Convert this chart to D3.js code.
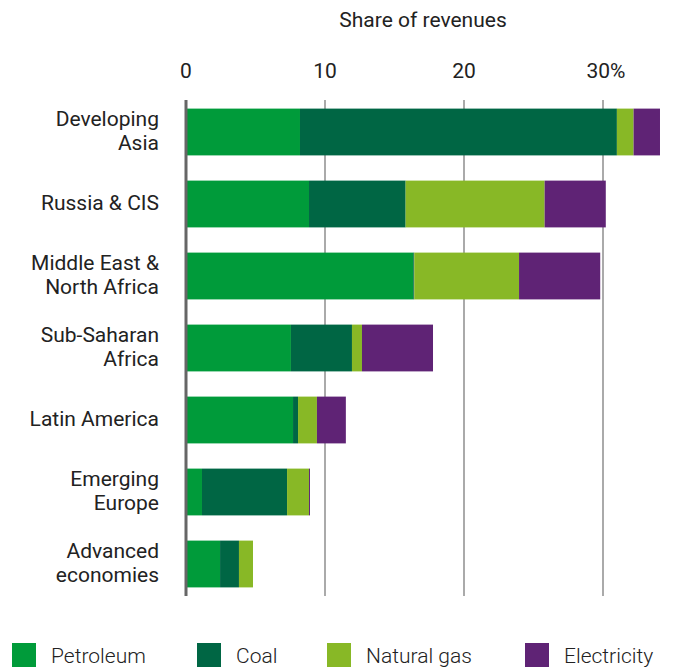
<!DOCTYPE html>
<html><head><meta charset="utf-8">
<script src="https://cdn.jsdelivr.net/npm/d3@7"></script>
<style>body{margin:0;background:#fff;} text{font-family:Roboto, "Noto Sans", sans-serif;fill:#222;}</style>
</head><body>
<svg id="c" width="674" height="669"></svg>
<script>
const categories = [["Developing","Asia"],["Russia & CIS"],["Middle East &","North Africa"],["Sub-Saharan","Africa"],["Latin America"],["Emerging","Europe"],["Advanced","economies"]];
const seriesNames = ["Petroleum","Coal","Natural gas","Electricity"];
const petroleum = [8.2, 8.85, 16.35, 7.55, 7.7, 1.15, 2.45];
const coal      = [22.8, 6.95, 0.07, 4.39, 0.36, 6.12, 1.36];
const naturalGas= [1.2, 10.0, 7.54, 0.72, 1.36, 1.58, 1.01];
const electricity=[1.9, 4.4, 5.84, 5.11, 2.08, 0.07, 0];
const tickValues = [0,10,20,30];
const tickLabels = ["0","10","20","30%"];
const colors = ["#009B3A","#006644","#88B826","#5F2375"];

const svg = d3.select("#c");
const x = d3.scaleLinear().domain([0,30]).range([186,603]);
const y = d3.scaleBand().domain(d3.range(categories.length)).range([96,600]).paddingInner(0.35).paddingOuter(0.175);

const rows = categories.map((c,i)=>({i, Petroleum:petroleum[i], Coal:coal[i], "Natural gas":naturalGas[i], Electricity:electricity[i]}));
const stacked = d3.stack().keys(seriesNames)(rows);

svg.append("g").selectAll("line").data(tickValues.slice(1)).join("line")
  .attr("x1",d=>x(d)).attr("x2",d=>x(d)).attr("y1",100).attr("y2",596)
  .attr("stroke","#aaa").attr("stroke-width",2);

svg.append("g").selectAll("g").data(stacked).join("g")
  .attr("fill",(d,i)=>colors[i])
  .selectAll("rect").data(d=>d).join("rect")
  .attr("x",d=>x(d[0])).attr("width",d=>Math.max(0,x(d[1])-x(d[0])))
  .attr("y",d=>y(d.data.i)).attr("height",y.bandwidth());

svg.append("line").attr("x1",x(0)).attr("x2",x(0)).attr("y1",100).attr("y2",596)
  .attr("stroke","#666").attr("stroke-width",3);

svg.append("g").selectAll("text").data(tickValues).join("text")
  .attr("x",(d,i)=>x(d)+(i===3?3:0)).attr("y",78).attr("text-anchor","middle")
  .attr("font-size",21).text((d,i)=>tickLabels[i]);

svg.append("text").attr("x",423).attr("y",27).attr("text-anchor","middle").attr("font-size",21).text("Share of revenues");

const lab = svg.append("g").selectAll("text").data(categories).join("text")
  .attr("x",159).attr("text-anchor","end").attr("font-size",21);
lab.each(function(c,i){
  const cy = y(i)+y.bandwidth()/2;
  const t = d3.select(this);
  const lh = 24;
  c.forEach((line,k)=>{
    t.append("tspan").attr("x",159).attr("y",cy - (c.length-1)*lh/2 + k*lh + 6).text(line);
  });
});

const legX = [12,197,327,525];
const lg = svg.append("g").selectAll("g").data(seriesNames).join("g")
  .attr("transform",(d,i)=>`translate(${legX[i]},643)`);
lg.append("rect").attr("width",24).attr("height",24).attr("fill",(d,i)=>colors[i]);
lg.append("text").attr("x",39).attr("y",20).attr("font-size",21).attr("font-weight",300).text(d=>d);
</script>
</body></html>
